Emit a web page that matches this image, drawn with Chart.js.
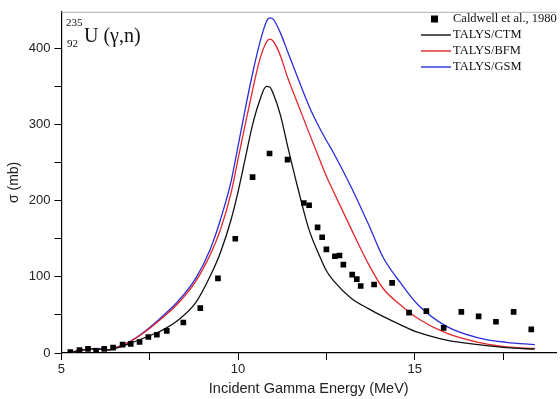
<!DOCTYPE html>
<html>
<head>
<meta charset="utf-8">
<script src="https://cdn.jsdelivr.net/npm/chart.js@4.4.1/dist/chart.umd.min.js"></script>
<style>
  html, body { margin: 0; padding: 0; background: #fff; }
  #wrap { width: 560px; height: 399px; position: relative; }
</style>
</head>
<body>
<div id="wrap"><canvas id="xsChart"></canvas></div>
<script>
// ========================================
// DATA
// ========================================
const energyGrid = [5.2, 5.5, 5.75, 6.0, 6.3, 6.6, 6.9, 7.4, 7.9, 8.3, 8.8, 9.2, 9.5, 9.8, 10.0, 10.2, 10.4, 10.6, 10.8, 10.9, 11.0, 11.2, 11.4, 11.7, 12.0, 12.3, 12.5, 12.7, 13.2, 13.7, 14.1, 14.6, 15.1, 15.9, 16.8, 17.6, 18.4];
const ctmValues = [0, 3, 5, 5.5, 4, 7, 12, 21, 31, 43, 66, 100, 132, 175, 212, 255, 298, 330, 350, 349, 340, 312, 272, 215, 163, 128, 108, 95, 72, 58, 48, 37, 27, 17, 11, 7, 5];
const bfmValues = [0, 3, 5, 5.5, 4, 8, 14, 29, 48, 65, 94, 128, 162, 210, 255, 300, 343, 383, 408, 412, 409, 390, 362, 326, 290, 255, 232, 212, 163, 116, 85, 63, 45, 26, 14, 8, 6];
const gsmValues = [0, 3, 5.5, 6, 4, 8, 14, 30, 50, 68, 98, 135, 175, 225, 272, 320, 365, 405, 435, 440, 438, 420, 396, 360, 325, 296, 279, 263, 218, 168, 126, 92, 63, 35, 20, 14, 11];

const expEnergy = [5.25, 5.51, 5.75, 5.98, 6.21, 6.46, 6.73, 6.96, 7.21, 7.46, 7.70, 7.98, 8.45, 8.93, 9.43, 9.92, 10.41, 10.89, 11.40, 11.86, 12.01, 12.25, 12.38, 12.50, 12.74, 12.87, 12.98, 13.23, 13.36, 13.47, 13.85, 14.36, 14.84, 15.33, 15.82, 16.32, 16.81, 17.30, 17.80, 18.30];
const expValues = [1.3, 4, 5.5, 3, 5.5, 7, 11, 12, 14.4, 21, 24, 29, 40, 59, 98, 150, 231, 262, 254, 197, 194, 165, 152, 136, 127, 128, 116, 103, 97, 88, 90, 92, 53, 55, 33, 54, 48, 41, 54, 31];

const xTicks = [5, 7.5, 10, 12.5, 15, 17.5];
const xLabels = [5, 10, 15];
const yTicks = [0, 50, 100, 150, 200, 250, 300, 350, 400];
const yLabels = [0, 100, 200, 300, 400];

const SERIF = '"Liberation Serif", "Times New Roman", serif';
const SANS = '"Liberation Sans", Arial, sans-serif';

const toPoints = (xs, ys) => xs.map((x, i) => ({ x: x, y: ys[i] }));

// ========================================
// PLUGIN: khung trên, tiêu đề phản ứng, chú thích
// ========================================
const decorPlugin = {
  id: "decor",
  afterDraw(chart) {
    const ctx = chart.ctx;
    const a = chart.chartArea;
    ctx.save();

    // đường viền trên màu xám
    ctx.strokeStyle = "#b0b0b0";
    ctx.lineWidth = 1;
    ctx.beginPath();
    ctx.moveTo(a.left, a.top + 0.5);
    ctx.lineTo(a.right, a.top + 0.5);
    ctx.stroke();

    // tiêu đề 235/92 U (γ,n)
    ctx.fillStyle = "#111";
    ctx.textBaseline = "alphabetic";
    ctx.textAlign = "left";
    ctx.font = "11px " + SERIF;
    ctx.fillText("235", 66, 26);
    ctx.fillText("92", 67, 47);
    ctx.font = "20px " + SERIF;
    ctx.fillText("U (γ,n)", 84, 42);

    // chú thích
    const lx = 453;
    const rows = chart.data.datasets;
    const rowY = [19, 35, 51, 67];
    ctx.font = "12.5px " + SERIF;
    ctx.textBaseline = "middle";
    rows.forEach((ds, i) => {
      const y = rowY[i];
      if (ds.showLine === false) {
        ctx.fillStyle = ds.backgroundColor;
        ctx.fillRect(431, y - 3.5, 7, 7);
      } else {
        ctx.strokeStyle = ds.borderColor;
        ctx.lineWidth = 1.4;
        ctx.beginPath();
        ctx.moveTo(421, y);
        ctx.lineTo(451, y);
        ctx.stroke();
      }
      ctx.fillStyle = "#111";
      ctx.fillText(ds.label, lx, y);
    });
    ctx.restore();
  },
};

// ========================================
// RENDER CHART
// ========================================
function renderChart() {
  const ctx = document.getElementById("xsChart");
  new Chart(ctx, {
    type: "scatter",
    data: {
      datasets: [
        {
          label: "Caldwell et al., 1980",
          data: toPoints(expEnergy, expValues),
          showLine: false,
          pointStyle: "rect",
          pointRadius: 4,
          backgroundColor: "#000",
          borderColor: "#000",
          borderWidth: 0,
        },
        {
          label: "TALYS/CTM",
          data: toPoints(energyGrid, ctmValues),
          showLine: true,
          borderColor: "#111",
          borderWidth: 1.3,
          pointRadius: 0,
          cubicInterpolationMode: "monotone",
        },
        {
          label: "TALYS/BFM",
          data: toPoints(energyGrid, bfmValues),
          showLine: true,
          borderColor: "#e3262b",
          borderWidth: 1.3,
          pointRadius: 0,
          cubicInterpolationMode: "monotone",
        },
        {
          label: "TALYS/GSM",
          data: toPoints(energyGrid, gsmValues),
          showLine: true,
          borderColor: "#2a2ed8",
          borderWidth: 1.3,
          pointRadius: 0,
          cubicInterpolationMode: "monotone",
        },
      ],
    },
    options: {
      responsive: true,
      maintainAspectRatio: false,
      animation: false,
      layout: { padding: { top: 8, right: 0, left: 6, bottom: 0 } },
      plugins: {
        legend: { display: false },
        tooltip: { enabled: false },
      },
      scales: {
        x: {
          type: "linear",
          min: 5,
          max: 19,
          afterBuildTicks: (s) => { s.ticks = xTicks.map((v) => ({ value: v })); },
          ticks: {
            autoSkip: false,
            maxRotation: 0,
            padding: 2,
            color: "#222",
            font: { family: SANS, size: 13 },
            callback: (v) => (xLabels.includes(v) ? String(v) : ""),
          },
          grid: { drawOnChartArea: false, tickLength: 7, tickColor: "#000" },
          border: { color: "#000", width: 1.2 },
          title: {
            display: true,
            text: "Incident Gamma Energy (MeV)",
            color: "#222",
            font: { family: SANS, size: 14.5 },
            padding: { top: 1, bottom: 1 },
          },
        },
        y: {
          type: "linear",
          min: 0,
          max: 448,
          afterBuildTicks: (s) => { s.ticks = yTicks.map((v) => ({ value: v })); },
          ticks: {
            autoSkip: false,
            padding: 4,
            color: "#222",
            font: { family: SANS, size: 13 },
            callback: (v) => (yLabels.includes(v) ? String(v) : ""),
          },
          grid: { drawOnChartArea: false, tickLength: 7, tickColor: "#000" },
          border: { color: "#000", width: 1.2 },
          title: {
            display: true,
            text: "σ (mb)",
            color: "#222",
            font: { family: SANS, size: 14 },
            padding: { top: 0, bottom: 2 },
          },
        },
      },
    },
    plugins: [decorPlugin],
  });
}

renderChart();
</script>
</body>
</html>
